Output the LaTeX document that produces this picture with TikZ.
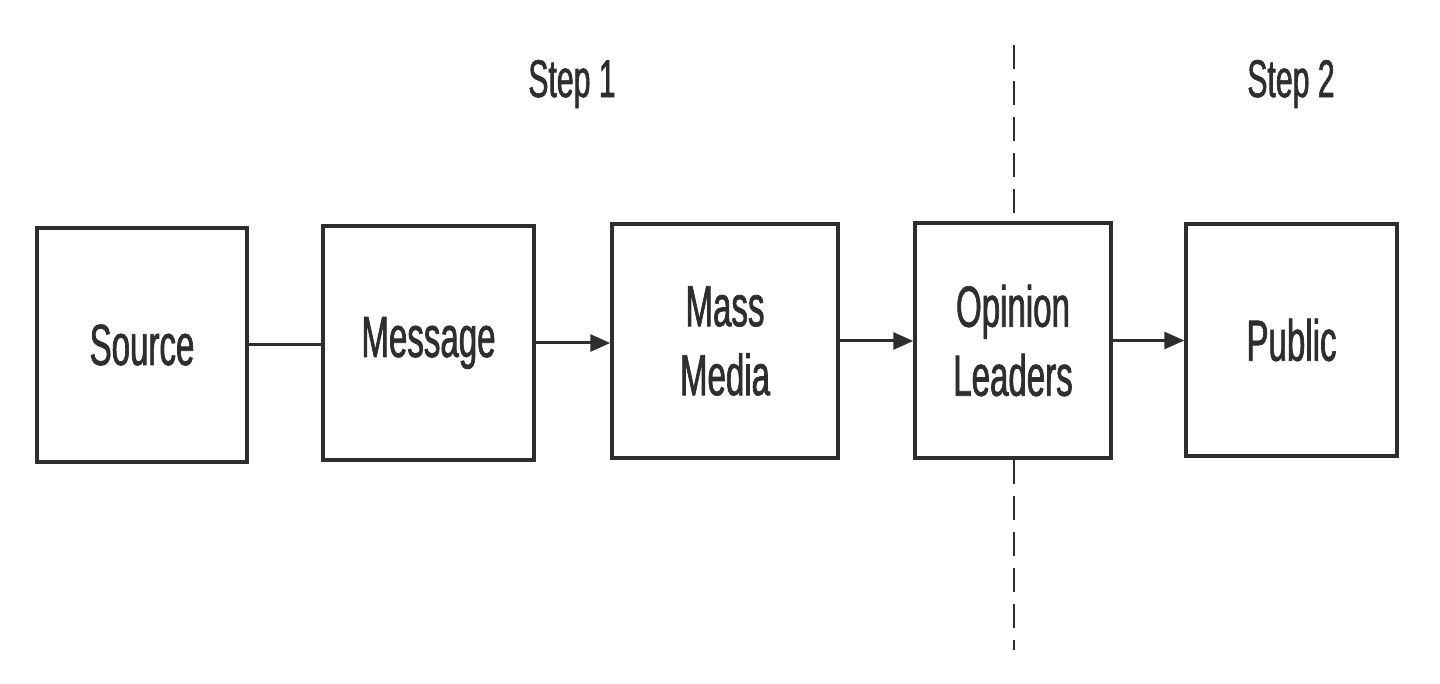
\documentclass[tikz,border=0pt]{standalone}
\usepackage{fontspec}
\setmainfont{Liberation Sans}[FakeStretch=0.57,FakeBold=1.2]
\usetikzlibrary{arrows.meta}
\definecolor{ink}{HTML}{2E2E2E}
\begin{document}
\begin{tikzpicture}[x=1pt,y=-1pt,
  box/.style={draw=ink,line width=3.5pt,inner sep=0pt,minimum height=234pt,
    text=ink,font=\fontsize{58}{69}\selectfont,align=center},
  steplbl/.style={text=ink,font=\fontsize{53}{60}\selectfont},
  conn/.style={draw=ink,line width=3pt},
  arr/.style={conn,-{Triangle[length=20pt,width=17pt]}},
  divider/.style={draw=ink,line width=2.5pt,dash pattern=on 24pt off 12pt}]
\useasboundingbox (0,0) rectangle (1440,684);
\fill[white] (0,0) rectangle (1440,684);
% boxes
\node[box,minimum width=210pt] (source)  at (142,345) {Source};
\node[box,minimum width=211pt] (message) at (428.5,343) {Message};
\node[box,minimum width=226pt] (mass)    at (725,341) {Mass\\Media};
\node[box,minimum width=196pt,minimum height=235pt] (opinion) at (1013,340.5) {Opinion\\Leaders};
\node[box,minimum width=211pt,minimum height=232pt] (public)  at (1291.5,340) {Public};
% connectors
\draw[conn] (source.east) -- (source.east -| message.west);
\draw[arr] (message.east) -- (message.east -| mass.west);
\draw[arr] (mass.east) -- (mass.east -| opinion.west);
\draw[arr] (opinion.east) -- (opinion.east -| public.west);
% divider
\coordinate (dtop) at (1014,45);
\coordinate (dbot) at (1014,650);
\draw[divider] (dtop) -- (dtop |- opinion.north);
\draw[divider] (dtop |- opinion.south) -- (dbot);
% step labels
\node[steplbl] (step1) at (572,84) {Step 1};
\node[steplbl] (step2) at (1291,84) {Step 2};
\end{tikzpicture}
\end{document}
